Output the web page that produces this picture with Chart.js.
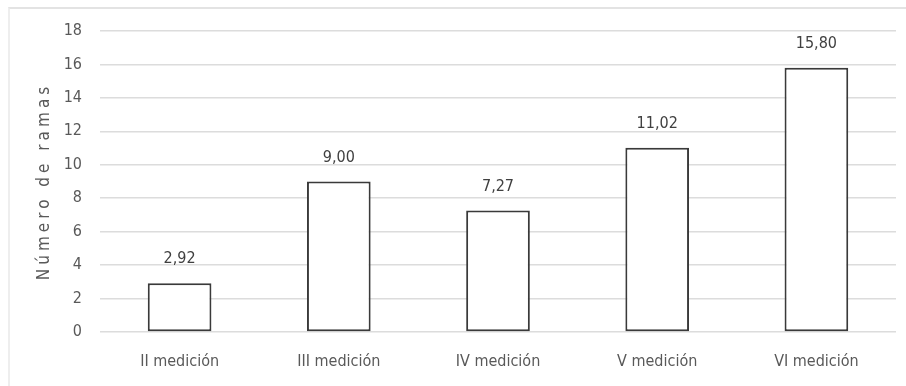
<!DOCTYPE html>
<html>
<head>
<meta charset="utf-8">
<script src="https://cdn.jsdelivr.net/npm/chart.js@4/dist/chart.umd.min.js"></script>
<style>
  body { margin: 0; background: #fff; }
  #wrap { position: relative; width: 906px; height: 386px; }
  #frame { position: absolute; left: 8px; top: 7px; right: 0; bottom: 0; border-top: 2px solid #e3e3e3; border-left: 2px solid #eeeeee; }
  canvas { position: absolute; left: 0; top: 0; }
</style>
</head>
<body>
<div id="wrap">
  <div id="frame"></div>
  <canvas id="chart" width="906" height="386"></canvas>
</div>
<script>
  // Data
  const categories = ['II medición', 'III medición', 'IV medición', 'V medición', 'VI medición'];
  const ramas = [2.92, 9.00, 7.27, 11.02, 15.80];
  const yTicks = [0, 2, 4, 6, 8, 10, 12, 14, 16, 18];
  const yTitle = 'Número de ramas';

  const fontFamily = '"Liberation Sans Narrow", "DejaVu Sans Condensed", "Open Sans", sans-serif';

  function fmt(v) {
    return v.toFixed(2).replace('.', ',');
  }

  // Value labels above each bar
  const barLabels = {
    id: 'barLabels',
    afterDatasetsDraw(chart) {
      const ctx = chart.ctx;
      const meta = chart.getDatasetMeta(0);
      ctx.save();
      ctx.font = '16px ' + fontFamily;
      ctx.fillStyle = '#404040';
      ctx.textAlign = 'center';
      ctx.textBaseline = 'middle';
      meta.data.forEach(function (bar, i) {
        ctx.fillText(fmt(ramas[i]), bar.x, bar.y - 24);
      });
      ctx.restore();
    }
  };

  // Rotated axis title with letter spacing
  const axisTitle = {
    id: 'axisTitle',
    afterDraw(chart) {
      const ctx = chart.ctx;
      const area = chart.chartArea;
      ctx.save();
      ctx.translate(45, (area.top + area.bottom) / 2);
      ctx.rotate(-Math.PI / 2);
      ctx.font = '17px ' + fontFamily;
      ctx.letterSpacing = '4px';
      ctx.fillStyle = '#595959';
      ctx.textAlign = 'center';
      ctx.textBaseline = 'middle';
      ctx.fillText(yTitle, 0, 0);
      ctx.restore();
    }
  };

  new Chart(document.getElementById('chart').getContext('2d'), {
    type: 'bar',
    data: {
      labels: categories,
      datasets: [{
        data: ramas,
        backgroundColor: '#ffffff',
        borderColor: '#3a3a3a',
        borderWidth: 2,
        borderSkipped: false,
        barPercentage: 0.4,
        categoryPercentage: 1
      }]
    },
    options: {
      responsive: false,
      animation: false,
      layout: { padding: { left: 8, right: 10, top: 31, bottom: 8 } },
      plugins: {
        legend: { display: false },
        tooltip: { enabled: false }
      },
      scales: {
        x: {
          grid: { display: false, drawTicks: false },
          border: { display: false },
          ticks: { color: '#595959', font: { family: fontFamily, size: 16 }, padding: 20 },
          afterFit: function (s) { s.height = 46; }
        },
        y: {
          min: 0,
          max: 18,
          afterBuildTicks: function (s) { s.ticks = yTicks.map(v => ({ value: v })); },
          grid: { color: '#dcdcdc', lineWidth: 1.5, drawTicks: false },
          border: { display: false },
          ticks: { color: '#595959', font: { family: fontFamily, size: 16 }, padding: 18 },
          afterFit: function (s) { s.width = 92; }
        }
      }
    },
    plugins: [barLabels, axisTitle]
  });
</script>
</body>
</html>
